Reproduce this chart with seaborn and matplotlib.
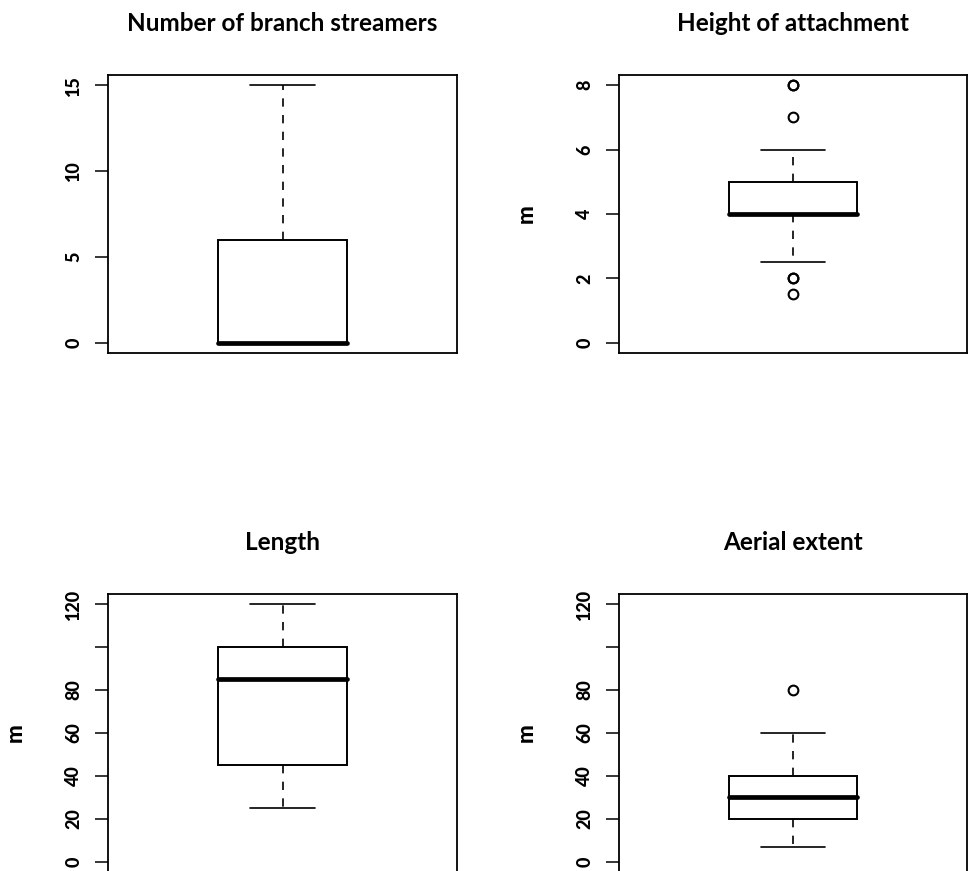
import matplotlib
matplotlib.use("Agg")
import matplotlib.pyplot as plt
import seaborn as sns

# observations per variable, chosen so the quartiles / whiskers / outliers match the boxes
branch_streamers = [0, 0, 0, 0, 0, 3, 6, 10, 15]
attachment_height = [1.5, 2, 2, 2.5, 3, 4, 4, 4, 4, 4, 4, 4, 4.5, 5, 5, 5, 5.5, 6, 7, 8, 8]
length_m = [25, 40, 45, 70, 85, 90, 100, 110, 120]
aerial_extent = [7, 15, 20, 25, 30, 35, 40, 60, 80]

titles = ["Number of branch streamers", "Height of attachment", "Length", "Aerial extent"]
ylabels = ["", "m", "m", "m"]
ylims = [(0, 15), (0, 8), (0, 120), (0, 120)]
yticks = [[0, 5, 10, 15], [0, 2, 4, 6, 8],
          [0, 20, 40, 60, 80, 100, 120], [0, 20, 40, 60, 80, 100, 120]]
# R drops the "100" label because it would overlap its neighbours
ytick_labels = [["0", "5", "10", "15"], ["0", "2", "4", "6", "8"],
                ["0", "20", "40", "60", "80", "", "120"],
                ["0", "20", "40", "60", "80", "", "120"]]

sns.set_style("white")
plt.rcParams["font.family"] = ["Lato", "DejaVu Sans"]
plt.rcParams["font.weight"] = "bold"
plt.rcParams["axes.titleweight"] = "bold"
plt.rcParams["axes.labelweight"] = "bold"

W, H = 968, 871
fig = plt.figure(figsize=(W / 100, H / 100), dpi=100)

# axes boxes in pixels: left, top, right, bottom
boxes = [(108, 75, 457, 353), (619, 75, 967, 353),
         (108, 594, 457, 872), (619, 594, 967, 872)]

datasets = [branch_streamers, attachment_height, length_m, aerial_extent]

for i, data in enumerate(datasets):
    l, t, r, b = boxes[i]
    ax = fig.add_axes([l / W, 1 - b / H, (r - l) / W, (b - t) / H])
    sns.boxplot(y=data, ax=ax, width=0.4, color="white", linecolor="black",
                linewidth=1.4, whis=1.5,
                medianprops=dict(color="black", linewidth=3.4, solid_capstyle="round"),
                whiskerprops=dict(color="black", linewidth=1.2, linestyle=(0, (5, 5))),
                capprops=dict(color="black", linewidth=1.2),
                flierprops=dict(marker="o", markerfacecolor="none", markeredgecolor="black",
                                markersize=7, markeredgewidth=1.5))
    lo, hi = ylims[i]
    pad = 0.04 * (hi - lo)
    ax.set_ylim(lo - pad, hi + pad)
    ax.set_xlim(-0.54, 0.54)
    ax.set_xticks([])
    ax.set_yticks(yticks[i])
    ax.set_yticklabels(ytick_labels[i], rotation=90, va="center",
                       fontweight=900, fontsize=13, color="black")
    ax.tick_params(axis="y", length=9.5, width=1.1, direction="out",
                   pad=9, left=True, colors="black")
    for s in ax.spines.values():
        s.set_visible(True)
        s.set_color("black")
        s.set_linewidth(1.3)
    ax.set_title(titles[i], fontsize=17.5, fontweight="bold", color="black", pad=32)
    ax.set_ylabel(ylabels[i], fontsize=16, fontweight=900, color="black")
    ax.yaxis.set_label_coords(-0.235, 0.5)

fig.savefig("out.png", dpi=100, facecolor="white")
